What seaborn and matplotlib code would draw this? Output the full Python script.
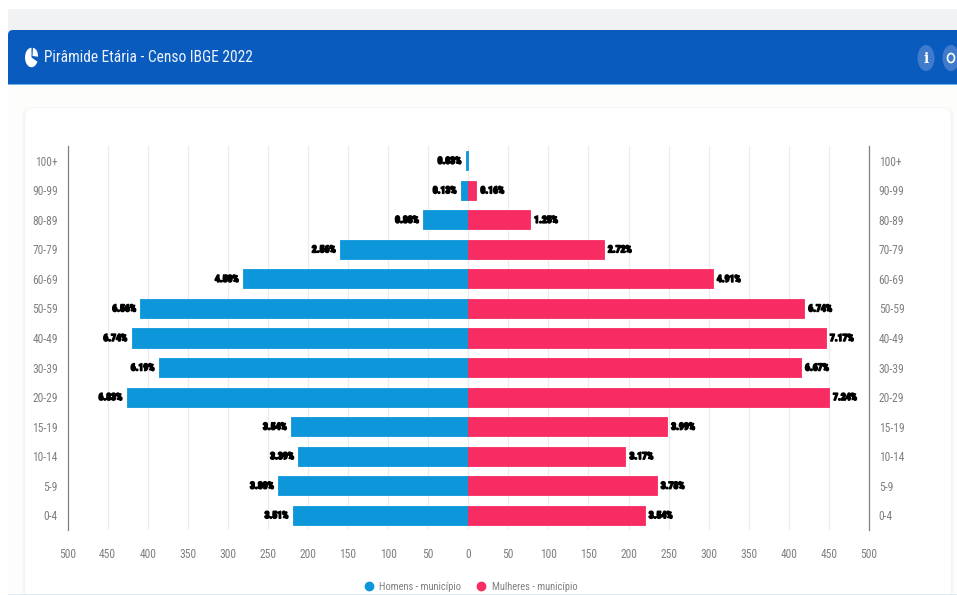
import pandas as pd
import matplotlib
matplotlib.use('Agg')
import matplotlib.pyplot as plt
import seaborn as sns
import matplotlib.patheffects as pe
from matplotlib.lines import Line2D
from matplotlib.patches import FancyBboxPatch, Rectangle, Wedge, Ellipse
from matplotlib.transforms import Affine2D

# Dados
faixas = ['100+', '90-99', '80-89', '70-79', '60-69', '50-59', '40-49',
          '30-39', '20-29', '15-19', '10-14', '5-9', '0-4']
homens = [3, 9, 56, 160, 281, 409, 420, 386, 426, 221, 212, 237, 219]
mulheres = [0, 10, 77, 169, 305, 419, 446, 415, 450, 248, 196, 235, 220]
pct_homens = ['0.03%', '0.13%', '0.88%', '2.56%', '4.50%', '6.56%', '6.74%',
              '6.19%', '6.83%', '3.54%', '3.39%', '3.80%', '3.51%']
pct_mulheres = ['', '0.16%', '1.25%', '2.72%', '4.91%', '6.74%', '7.17%',
                '6.67%', '7.24%', '3.99%', '3.17%', '3.78%', '3.54%']
ticks_x = [-500, -450, -400, -350, -300, -250, -200, -150, -100, -50, 0,
           50, 100, 150, 200, 250, 300, 350, 400, 450, 500]

AZUL = '#0e96da'
ROSA = '#f72c63'
HEADER = '#0a5bbe'
CINZA = '#808080'
FONTE = ['Roboto Condensed', 'Liberation Sans', 'DejaVu Sans']

sns.set_theme(style='white')
plt.rcParams['font.family'] = FONTE

df = pd.DataFrame({
    'faixa': faixas * 2,
    'valor': [-v for v in homens] + mulheres,
    'sexo': ['Homens - município'] * len(faixas) + ['Mulheres - município'] * len(faixas),
})

fig = plt.figure(figsize=(9.57, 5.95), dpi=100)

# ------------------ Fundo da página ------------------
bg = fig.add_axes([0, 0, 1, 1], zorder=0)
bg.set_xlim(0, 957)
bg.set_ylim(595, 0)
bg.axis('off')
bg.add_patch(Rectangle((8, 9), 949, 24, color='#f1f2f4', lw=0))
bg.add_patch(Rectangle((8, 84), 949, 511, color='#fdfdfc', lw=0))
for i, cor in enumerate(['#f9f9f9', '#f6f6f6', '#f3f3f3']):
    bg.add_patch(FancyBboxPatch((25 - 3 + i, 108 - 1 + i / 2), 926 + 6 - 2 * i, 520,
                                boxstyle='round,pad=0,rounding_size=12',
                                fc=cor, ec='none'))
bg.add_patch(FancyBboxPatch((25, 108), 926, 520, boxstyle='round,pad=0,rounding_size=10',
                            fc='white', ec='none'))
bg.add_patch(Rectangle((8, 594), 949, 1, color='#dcebf3', lw=0))

# Cabeçalho
bg.add_patch(FancyBboxPatch((8, 30), 970, 54, boxstyle='round,pad=0,rounding_size=5',
                            fc=HEADER, ec='none'))
bg.add_patch(Rectangle((8, 70), 949, 14, color=HEADER, lw=0))
bg.add_patch(Rectangle((8, 83.5), 949, 1, color='#6fb4e6', lw=0))

# icone de pizza, achatado como na captura
icone = Affine2D().scale(1, 1.5).translate(31.5, 57.5) + bg.transData
bg.add_patch(Wedge((0, 0), 6.5, 25, 270, fc='white', ec='none', transform=icone))
bg.add_patch(Wedge((1, -1), 5.5, -85, 5, fc='white', ec='none', transform=icone))

bg.text(44, 57.5, 'Pirâmide Etária - Censo IBGE 2022', color='#eef3fa', fontsize=11.2,
        va='center', ha='left')
bg.add_patch(Ellipse((926, 58), 17, 26, fc='#3f7bca', ec='none'))
bg.add_patch(Ellipse((951, 58), 17, 26, fc='#3f7bca', ec='none'))
bg.text(926, 59, 'i', color='white', fontsize=10, fontweight='bold', va='center', ha='center',
        family='DejaVu Serif')
bg.add_patch(Ellipse((951, 58), 7, 9, fc='none', ec='white', lw=1.2))

# ------------------ Pirâmide ------------------
ax = fig.add_axes([67.5 / 957, 1 - 530 / 595, (869 - 67.5) / 957, 384 / 595], zorder=1)
ax.patch.set_alpha(0)
sns.barplot(data=df, x='valor', y='faixa', hue='sexo', orient='y', dodge=False, width=0.645,
            palette=[AZUL, ROSA], order=faixas, saturation=1, legend=False, ax=ax)

for container, rotulos, cor in zip(ax.containers, [pct_homens, pct_mulheres], [AZUL, ROSA]):
    for barra in container:
        # barra de valor zero nao pode aparecer por causa da borda
        barra.set_edgecolor(cor if barra.get_width() != 0 else 'none')
        barra.set_linewidth(0.6)
        barra.set_joinstyle('round')
    textos = ax.bar_label(container, labels=rotulos, padding=3, fontsize=7, fontweight='bold',
                          color='black')
    for t in textos:
        t.set_path_effects([pe.withStroke(linewidth=1.1, foreground='black')])

ax.set_xlim(-500, 500)
ax.set_ylim(12.5, -0.5)
ax.set_xticks(ticks_x)
ax.set_xticklabels([str(abs(v)) for v in ticks_x])
ax.set_xlabel('')
ax.set_ylabel('')
ax.grid(axis='x', color='#ececec', lw=0.8)
ax.set_axisbelow(True)
ax.tick_params(axis='x', length=0, pad=13, labelsize=8.3, labelcolor=CINZA)
ax.tick_params(axis='y', length=0, pad=7, labelsize=8.3, labelcolor=CINZA, labelright=True)
for lado in ['top', 'bottom']:
    ax.spines[lado].set_visible(False)
for lado in ['left', 'right']:
    ax.spines[lado].set_visible(True)
    ax.spines[lado].set_color('#808080')
    ax.spines[lado].set_linewidth(0.9)

marcas = [Line2D([], [], marker='o', ls='', ms=6, color=AZUL, label='Homens - município'),
          Line2D([], [], marker='o', ls='', ms=6, color=ROSA, label='Mulheres - município')]
fig.legend(handles=marcas, loc='center', bbox_to_anchor=(468 / 957, 1 - 587 / 595), ncol=2,
           frameon=False, fontsize=7.6, labelcolor=CINZA, handletextpad=0, columnspacing=0.9)

plt.savefig('out.png', dpi=100)
